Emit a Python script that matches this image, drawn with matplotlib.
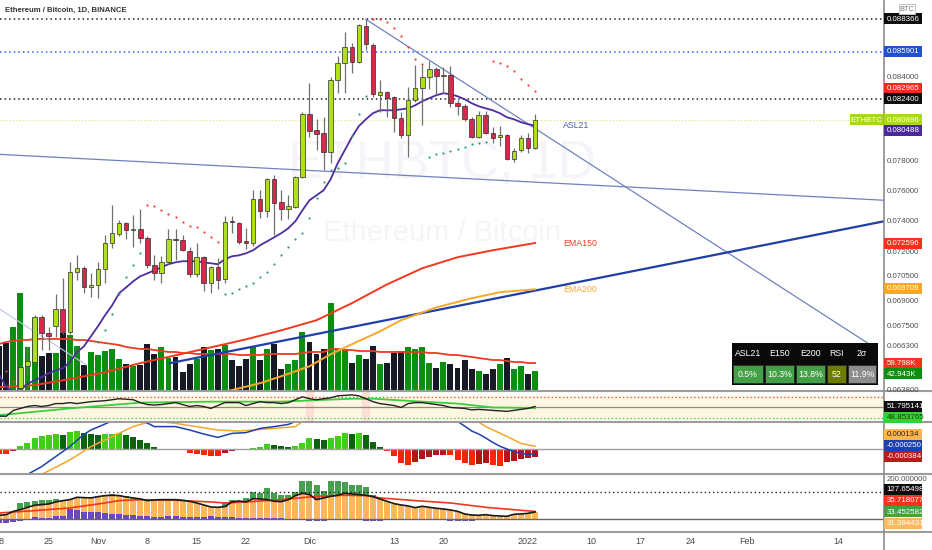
import matplotlib
matplotlib.use('Agg')
import matplotlib.pyplot as plt
from matplotlib.patches import Rectangle
import numpy as np

plt.rcParams['font.family'] = ['Liberation Sans', 'DejaVu Sans']

## ---------------- data (day 0 = 2022-01-01) ----------------
days = list(range(-75, 2))

opens = [.06320, .06260, .06220, .06391, .06515, .06538, .06802, .06706, .06748, .06849,
         .06712, .07076, .07101, .06983, .06996, .07094, .07258, .07316, .07387, .07342,
         .07348, .07290, .07120, .07069, .07138, .07284, .07277, .07208, .07063, .07170,
         .07008, .07107, .07032, .07400, .07387, .07271, .07258, .07545, .07466, .07678,
         .07525, .07479, .07492, .07691, .08130, .08016, .07995, .07862, .08376, .08502,
         .08622, .08509, .08783, .08637, .08267, .08288, .08252, .08101, .07981, .08230,
         .08318, .08398, .08457, .08405, .08413, .08209, .08187, .08094, .07967, .08123,
         .07995, .07967, .07981, .07814, .07876, .07960, .07890]
highs = [.06360, .06330, .06360, .06521, .06630, .06814, .06814, .06742, .06941, .07038,
         .07138, .07182, .07113, .07069, .07138, .07310, .07505, .07406, .07393, .07439,
         .07479, .07303, .07182, .07176, .07348, .07348, .07310, .07233, .07258, .07176,
         .07113, .07164, .07432, .07432, .07393, .07355, .07604, .07604, .07685, .07705,
         .07604, .07571, .07698, .08144, .08354, .08094, .08108, .08398, .08554, .08737,
         .08652, .08798, .08837, .08652, .08376, .08295, .08259, .08144, .08325, .08487,
         .08487, .08516, .08472, .08472, .08479, .08230, .08202, .08108, .08151, .08151,
         .08037, .08045, .07988, .07890, .07981, .07995, .08130]
lows = [.06220, .06200, .06200, .06369, .06464, .06533, .06607, .06607, .06683, .06700,
        .06700, .07026, .06947, .06922, .06916, .07008, .07227, .07303, .07284, .07233,
        .07258, .07101, .07026, .07008, .07126, .07151, .07208, .07045, .07045, .06959,
        .06947, .06971, .07008, .07323, .07252, .07221, .07239, .07419, .07426, .07310,
        .07406, .07413, .07485, .07685, .07967, .07876, .07739, .07787, .08281, .08281,
        .08428, .08502, .08600, .08252, .08144, .08108, .08002, .07960, .07828, .08216,
        .08052, .08310, .08267, .08281, .08180, .08123, .08080, .07960, .07960, .07988,
        .07925, .07904, .07807, .07794, .07862, .07855, .07885]
closes = [.06260, .06220, .06340, .06509, .06544, .06802, .06706, .06689, .06849, .06712,
          .07076, .07101, .06983, .06996, .07094, .07258, .07323, .07387, .07342, .07348,
          .07290, .07120, .07069, .07138, .07284, .07277, .07214, .07063, .07170, .07008,
          .07107, .07026, .07393, .07393, .07264, .07258, .07545, .07466, .07678, .07518,
          .07479, .07498, .07691, .08130, .08009, .07988, .07862, .08376, .08502, .08622,
          .08509, .08791, .08645, .08274, .08288, .08245, .08101, .07981, .08230, .08318,
          .08398, .08457, .08405, .08413, .08209, .08187, .08094, .07967, .08123, .07995,
          .07960, .07981, .07814, .07869, .07960, .07890, .08090]

volume_k = [96, 103, 137, 210, 94, 156, 75, 81, 81, 124,
            120, 96, 56, 83, 77, 86, 90, 68, 58, 54,
            56, 101, 79, 94, 71, 73, 41, 58, 68, 94,
            88, 90, 98, 66, 54, 68, 94, 66, 90, 101,
            47, 58, 66, 126, 105, 79, 90, 188, 90, 90,
            60, 77, 68, 96, 58, 60, 81, 86, 94, 90,
            94, 60, 49, 62, 58, 49, 66, 47, 43, 36,
            47, 58, 71, 47, 54, 36, 42.9]
volume_ma_k = [100.6, 104.9, 107, 109.1, 109.1, 111.3, 111.3, 111.3, 111.3, 111.3,
               111.3, 109.1, 109.1, 107, 104.9, 102.7, 100.6, 98.4, 94.2, 92,
               89.9, 89.9, 87.7, 85.6, 83.5, 83.5, 81.3, 81.3, 79.2, 79.2,
               79.2, 79.2, 79.2, 79.2, 77, 77, 77, 77, 79.2, 79.2,
               79.2, 79.2, 79.2, 81.3, 83.5, 83.5, 83.5, 89.9, 89.9, 87.7,
               87.7, 85.6, 85.6, 85.6, 83.5, 83.5, 83.5, 83.5, 83.5, 83.5,
               83.5, 81.3, 81.3, 79.2, 77, 77, 74.9, 72.8, 70.6, 68.5,
               66.3, 66.3, 64.2, 62, 62, 59.9, 59.8]

asl21 = [.06464, .06397, .06369, .06380, .06414, .06436, .06453, .06475, .06492, .06503,
         .06538, .06596, .06630, .06689, .06748, .06814, .06873, .06947, .06983, .07020,
         .07051, .07069, .07088, .07107, .07126, .07138, .07145, .07145, .07145, .07138,
         .07132, .07126, .07157, .07176, .07182, .07195, .07214, .07246, .07271, .07297,
         .07323, .07355, .07400, .07472, .07538, .07571, .07604, .07678, .07787, .07876,
         .07967, .08045, .08094, .08137, .08158, .08158, .08158, .08165, .08172, .08194,
         .08223, .08245, .08267, .08281, .08274, .08259, .08238, .08209, .08187, .08172,
         .08158, .08137, .08108, .08094, .08073, .08059, .08049]

ema150_days = [-75, -70, -65, -60, -55, -50, -45, -40, -35, -30, -25, -20, -15, -10, -5, 1]
ema150 = [.06397, .06408, .06442, .06481, .06533, .06578, .06624, .06671, .06724, .06784,
          .06886, .07001, .07101, .07170, .07214, .07260]
ema200_days = [-48, -42, -38, -35, -31, -28, -25, -21, -18, -13, -8, -4, 1]
ema200 = [.06341, .06380, .06419, .06458, .06515, .06584, .06642, .06718, .06784, .06861,
          .06916, .06953, .06971]

sar_red_days = [-74, -73, -54, -53, -52, -51, -50, -49, -48, -47, -46, -45, -44,
                -22, -21, -20, -19, -18, -17, -16, -15, -5, -4, -3, -2, -1, 0, 1]
sar_red = [.06486, .06430, .07505, .07498, .07472, .07446, .07426, .07393, .07368, .07361,
           .07329, .07297, .07264, .08840, .08837, .08813, .08767, .08706, .08622, .08531,
           .08494, .08516, .08502, .08479, .08443, .08383, .08340, .08295]
sar_green_days = [-61, -60, -59, -58, -57, -56, -55, -43, -42, -41, -40, -39, -38, -37,
                  -36, -35, -34, -33, -32, -31, -30, -29, -28, -27, -26, -25, -24, -23,
                  -14, -13, -12, -11, -10, -9, -8, -7, -6]
sar_green = [.06653, .06724, .06819, .06941, .07045, .07120, .07195, .06941, .06947, .06971,
             .06989, .07008, .07045, .07076, .07126, .07182, .07233, .07284, .07323, .07419,
             .07551, .07658, .07739, .07753, .07787, .07974, .08130, .08259,
             .07828, .07849, .07855, .07869, .07883, .07897, .07918, .07925, .07932]

# drawn trend lines (day, price)
line_down = ([-23.0, 48.9], [.08837, .06630])
line_flat = ([-74.9, 50.5], [.07848, .07538])
line_up = ([-50.8, 50.5], [.06533, .07400])
line_faint = ([-74.9, -62.6], [.06849, .06521])

rsi = [33.6, 33.6, 44.5, 48.2, 51.8, 53.6, 51.8, 53.6, 57.3, 57.3,
       59.1, 57.3, 59.1, 60.9, 61.8, 62.7, 64.5, 66.4, 65.5, 64.5,
       59.1, 55.5, 54.5, 55.5, 57.3, 59.1, 55.5, 51.8, 53.6, 51.8,
       48.2, 53.6, 59.1, 59.1, 59.1, 53.6, 57.3, 60.9, 59.1, 59.1,
       57.3, 59.1, 64.5, 70.0, 66.4, 64.5, 66.4, 68.2, 71.8, 72.7,
       73.6, 71.8, 66.4, 60.9, 57.3, 55.5, 53.6, 50.0, 57.3, 59.1,
       59.1, 57.3, 55.5, 53.6, 50.0, 49.1, 48.2, 45.5, 46.4, 45.5,
       44.5, 43.6, 42.7, 44.5, 46.4, 48.2, 51.8]
rsi_ma_days = [-75, -65, -55, -45, -35, -25, -22, -15, -10, -5, 1]
rsi_ma = [35.5, 48.2, 59.1, 60.9, 60.9, 66.4, 66.4, 60.9, 57.3, 50.0, 48.85]
rsi_hot_days = [-31, -23]

# MACD, units of 1e-4
macd_hist = [-2.6, -2.6, -1.0, 1.5, 2.9, 5.3, 6.5, 7.0, 7.3, 7.0,
             8.7, 9.2, 7.8, 7.3, 7.2, 7.5, 7.6, 8.0, 7.0, 6.2,
             4.7, 2.9, 0.8, 0.2, -0.3, -0.3, -0.5, -2.0, -2.3, -3.2,
             -3.3, -3.7, -2.2, -1.0, -0.7, -0.5, 0.7, 1.2, 2.3, 2.2,
             1.7, 1.2, 1.5, 2.9, 5.3, 4.9, 4.4, 5.5, 6.5, 8.0,
             7.6, 8.0, 7.0, 3.5, 1.2, -1.2, -3.7, -7.0, -8.0, -6.5,
             -5.0, -4.0, -3.0, -2.8, -3.2, -5.5, -7.0, -8.0, -7.5, -7.0,
             -8.0, -8.7, -6.5, -5.8, -5.0, -4.5, -3.84]
macd_days = [-75, -73, -71, -69, -67, -65, -63, -62, -61, -60, -59, -58, -57, -56, -55, -54,
             -53, -50, -48, -46, -44, -42, -40, -38, -36, -34, -33, -32, -30, -28, -26, -24,
             -22, -20, -18, -16, -14, -12, -11, -10, -9, -8, -7, -6, -5, -4, -3, -2, -1, 0, 1]
macd_line = [-22, -18, -12.7, -8.8, -3.8, 1.2, 7.3, 9.5, 11, 12.5, 14, 15, 15.5, 15, 14, 13,
             11.2, 11.2, 9.5, 7.5, 5.8, 7.8, 8.2, 10.3, 11.2, 12.3, 13.7, 16, 20, 24, 28, 31,
             30, 27, 23, 20, 17.5, 15.5, 15, 13.8, 11.5, 9, 7.5, 5.5, 3.3, 1.4, 0, -1.2, -2.2, -2.7, -2.5]
signal_days = [-75, -72, -69, -65, -62, -59, -56, -54, -52, -50, -47, -44, -41, -39, -36, -33,
               -32, -30, -26, -22, -18, -14, -10, -8, -7, -6, -3, -1, 1]
signal_line = [-20, -17, -12.7, -5.5, 1.2, 6.2, 11.2, 13.3, 13.6, 12.8, 11.2, 9.5, 9, 9.5, 10.3, 11.2,
               13.7, 16, 21, 25, 25, 22, 18, 15, 13.5, 11.2, 6.3, 2.8, 1.34]

# lower oscillator pane
osc_main = [17.5, 20.6, 36.5, 44.4, 55.5, 65.1, 68.2, 71.4, 80.9, 87.3,
            92, 103.2, 101.6, 100, 106.3, 111.1, 112.7, 111.1, 104.7, 100,
            95.2, 87.3, 90.5, 92, 92, 92, 88.9, 84.1, 76.2, 66.7,
            57.1, 55.5, 58.7, 80.9, 85.7, 80.9, 96.8, 95.2, 92, 84.1,
            82.5, 92, 111.1, 122.2, 115.9, 92, 100, 107.9, 112.7, 122.2,
            119, 115.9, 112.7, 106.3, 95.2, 84.1, 73, 66.7, 61.9, 54,
            60.3, 55.5, 50.8, 47.6, 42.8, 36.5, 23.8, 19, 17.5, 20.6,
            15.9, 14.3, 12.7, 22.2, 23.8, 27, 33.3]
osc_green = [0, 0, 33, 76, 81, 87, 90.5, 92, 95, 92,
             97, 106, 105, 106, 111, 116, 119, 116, 108, 0,
             0, 0, 0, 0, 0, 0, 0, 0, 0, 0,
             0, 0, 81, 92, 87, 100, 128.5, 123.8, 147.6, 123.8,
             115.9, 115.9, 128.5, 179.3, 179.3, 163.5, 131.7, 179.3, 179.3, 176.2,
             163.5, 160.3, 150.8, 115.9, 95, 84, 0, 0, 0, 0,
             0, 0, 0, 0, 0, 0, 0, 0, 0, 0,
             0, 0, 0, 0, 0, 0, 33.45]
osc_purple = [-19, -19, -16, -12, -5, 9.5, 5, 5, 12, 12,
              49, 44, 32, 32, 32, 28.6, 25.4, 25.4, 20.6, 17.5,
              15.9, 12.7, 9.5, 9.5, 12.7, 12.7, 9.5, 9.5, 7.9, 7.9,
              12.7, 9.5, 7.9, 7.9, 6, 5, 4.8, 4, 4, 4,
              3, 2, 0, -6, -11, -11, -11, -6, 0, 2,
              2, 0, -11, -11, -11, -6, 2, 2, 2, 2,
              2, 2, 0, 0, -9, -9, -9, -11, 0, 2,
              2, 2, 2, 2, 2, 2, 2]
osc_red_days = [-75, -70, -65, -60, -58, -55, -50, -45, -43, -40, -35, -30, -26, -23, -21, -16, -11, -6, 1]
osc_red = [28.6, 39.7, 52.4, 76.2, 87.3, 92, 88.9, 81, 76.2, 81, 92, 107.9, 112.7, 111.1, 100, 87.3, 76.2, 55.5, 35.7]
osc_level = 127.654982

table_heads = ['ASL21', 'E150', 'E200', 'RSI', '2σ']
table_vals = ['0.5%', '10.3%', '13.8%', '52', '11.9%']
table_colors = ['#43a047', '#43a047', '#43a047', '#6b7c00', '#8d8d8d']

tick_days = [-75, -68, -61, -54, -47, -40, -31, -19, -12, 0, 9, 16, 23, 31, 44]
tick_texts = ['18', '25', 'Nov', '8', '15', '22', 'Dic', '13', '20', '2022', '10', '17', '24', 'Feb', '14']

price_ticks = [0.084, 0.078, 0.076, 0.074, 0.072, 0.0705, 0.069, 0.0675, 0.0663, 0.0638]

## ---------------- layout ----------------
W, H = 932, 550
X0, X1 = -74.9, 50.5
UP, DN = '#b0e01c', '#d8284c'
TAG_FS = 5.7

fig = plt.figure(figsize=(W / 100, H / 100), dpi=100)
fig.patch.set_facecolor('white')


def pane(top, bottom, z=1):
    a = fig.add_axes([0, 1 - bottom / H, 884 / W, (bottom - top) / H], zorder=z)
    a.set_xlim(X0, X1)
    a.set_xticks([])
    a.set_yticks([])
    for s in a.spines.values():
        s.set_visible(False)
    return a


ax_vol = pane(0, 391, 1)
ax = pane(0, 391, 2)
ax.patch.set_alpha(0)
ax_rsi = pane(391, 422)
ax_macd = pane(422, 474)
ax_osc = pane(474, 532)
ov = fig.add_axes([0, 0, 1, 1], zorder=10)
ov.set_xlim(0, W)
ov.set_ylim(H, 0)
ov.axis('off')
ov.patch.set_alpha(0)

d = np.array(days)
o, h, l, c = map(np.array, (opens, highs, lows, closes))
up = c >= o

## volume + watermark
ax_vol.set_ylim(0, 391 * 2.14)
ax_vol.bar(d, volume_k, width=0.84, color=np.where(up, '#0c8f10', '#161a25'))
ax_vol.plot(d, volume_ma_k, color='#ee3a22', lw=1.3)
ax_vol.text(0.5, 0.58, 'ETHBTC, 1D', transform=ax_vol.transAxes, fontsize=38,
            color='#f6f4f9', ha='center', va='center')
ax_vol.text(0.5, 0.405, 'Ethereum / Bitcoin', transform=ax_vol.transAxes, fontsize=21,
            color='#f6f4f9', ha='center', va='center')

## main price pane
ax.set_yscale('log')
ax.set_ylim(0.06375, 0.08988)
ax.set_yticks([], minor=True)
ax.axhline(0.088366, color='#222222', lw=1.1, ls=(0, (1, 2)))
ax.axhline(0.085901, color='#2962ff', lw=1.1, ls=(0, (1, 2)))
ax.axhline(0.0824, color='#222222', lw=1.1, ls=(0, (1, 2)))
ax.axhline(0.080896, color='#dfe88e', lw=0.9, ls=(0, (1, 1.5)))

ax.plot(*line_down, color='#6f82c0', lw=0.9)
ax.plot(*line_flat, color='#6f82c0', lw=0.9)
ax.plot(*line_faint, color='#b8c6ea', lw=0.8)
ax.plot(*line_up, color='#1f3fa6', lw=1.6)
ax.plot(ema150_days, ema150, color='#ef3a1e', lw=1.4)
ax.plot(ema200_days, ema200, color='#f7a82a', lw=1.4)
ax.plot(d, asl21, color='#4d2d9f', lw=1.3, zorder=3)

lo_b = np.minimum(o, c)
hi_b = np.maximum(o, c)
ax.vlines(d, l, h, color='#707070', lw=0.9, zorder=4)
ax.bar(d, np.maximum(hi_b - lo_b, 0.00003), bottom=lo_b, width=0.64,
       color=np.where(up, UP, DN), edgecolor='#2e2e2e', linewidth=0.5, zorder=5)
ax.scatter(sar_red_days, sar_red, s=2.5, color='#f0412f', zorder=6, linewidths=0)
ax.scatter(sar_green_days, sar_green, s=2.5, color='#2b9c78', zorder=6, linewidths=0)

ax.text(5, asl21[-1], 'ASL21', color='#4a5fae', fontsize=6.3, va='center', ha='left')
ax.text(5, ema150[-1], 'EMA150', color='#ef3a1e', fontsize=6.3, va='center', ha='left')
ax.text(5, ema200[-1], 'EMA200', color='#f7a82a', fontsize=6.3, va='center', ha='left')

## RSI pane
ax_rsi.set_ylim(22.7, 80.9)
ax_rsi.axhspan(29, 72, color='#fdf7e2', zorder=0)
for hd in rsi_hot_days:
    ax_rsi.axvspan(hd - 0.5, hd + 0.5, color='#fde0d4', zorder=0.5)
ax_rsi.axhline(70, color='#f04040', lw=0.9, ls=(0, (1, 2)))
ax_rsi.axhline(30, color='#34c834', lw=0.9, ls=(0, (1, 2)))
ax_rsi.axhline(50, color='#8a8a8a', lw=0.9)
ax_rsi.plot(rsi_ma_days, rsi_ma, color='#3ccf3c', lw=1.3)
ax_rsi.plot(d, rsi, color='#222222', lw=1.0)

## MACD pane
ax_macd.set_ylim(-12.5, 13.5)
ax_macd.axhline(0, color='#a0a0a0', lw=1)
hist = np.array(macd_hist)
prev = np.concatenate([[hist[0]], hist[:-1]])
hcol = np.where(hist >= 0, np.where(hist >= prev, '#3fcf16', '#0b640b'),
                np.where(hist <= prev, '#ff2400', '#b3141c'))
ax_macd.bar(d, hist, width=0.85, color=hcol)
ax_macd.plot(signal_days, signal_line, color='#f6a630', lw=1.1)
ax_macd.plot(macd_days, macd_line, color='#1e40b0', lw=1.1)

## oscillator pane
ax_osc.set_ylim(-62, 214)
ax_osc.bar(d, osc_green, width=0.85, color='#45a04f')
ax_osc.bar(d, osc_main, width=0.85, color='#ffb75e')
ax_osc.bar(d, osc_purple, width=0.85, color='#6a48c0')
ax_osc.axhline(0, color='#666666', lw=1)
ax_osc.axhline(osc_level, color='#222222', lw=1.0, ls=(0, (1, 2)))
ax_osc.plot(osc_red_days, osc_red, color='#f2381c', lw=1.2)
ax_osc.plot(d, osc_main, color='#1a1a1a', lw=1.2)

## ---------------- overlay: scale, tags, table ----------------
ov.hlines([391, 422, 474, 532], 0, W, color='#9c9c9c', lw=1.5, zorder=2)
ov.vlines(884, 0, H, color='#8c8c8c', lw=1.2, zorder=2)


def ypix(axis, val):
    return H - axis.transData.transform((0, val))[1]


def tag(axis, val, text, bg=None, fg='#505050', shift=0.0):
    y = ypix(axis, val) + shift
    z = 6 if bg else 3
    if bg:
        ov.add_patch(Rectangle((884, y - 5.5), 38, 11, facecolor=bg, edgecolor='none', zorder=z))
    ov.text(886.5, y + 0.3, text, color=fg, fontsize=TAG_FS, va='center', ha='left', zorder=z + 1)


for v in price_ticks:
    tag(ax, v, f'{v:.6f}')
tag(ax, 0.088366, '0.088366', '#0d0d0d', 'white', -0.5)
tag(ax, 0.085901, '0.085901', '#2152c9', 'white')
tag(ax, 0.082965, '0.082965', '#f52a1a', 'white', -3)
tag(ax, 0.0824, '0.082400', '#0d0d0d', 'white')
tag(ax, 0.080896, '0.080896', '#a9d81a', 'white')
tag(ax, asl21[-1], '0.080488', '#4a2a9a', 'white', 5)
tag(ax, ema150[-1], '0.072596', '#f5321c', 'white')
tag(ax, ema200[-1], '0.069709', '#f9a825', 'white', -1)
tag(ax_vol, volume_ma_k[-1], '59.798K', '#f5321c', 'white')
tag(ax_vol, volume_k[-1], '42.943K', '#0c8f10', 'white', 3)
tag(ax_rsi, rsi[-1], '51.795141', '#0d0d0d', 'white')
tag(ax_rsi, rsi_ma[-1], '48.853765', '#33d233', '#1c3a12', 9.5)
tag(ax_macd, signal_line[-1], '0.000134', '#ffb54a', '#2a2a2a', -12)
tag(ax_macd, macd_line[-1], '-0.000250', '#1e3fae', 'white', -9)
tag(ax_macd, macd_hist[-1], '-0.000384', '#b71c1c', 'white')
tag(ax_osc, 200, '200.000000', None, '#505050', 2.5)
tag(ax_osc, osc_level, '127.654982', '#0d0d0d', 'white', -3)
tag(ax_osc, osc_red[-1], '35.718077', '#f5321c', 'white', -11)
tag(ax_osc, osc_green[-1], '33.452582', '#43a047', 'white')
tag(ax_osc, 31.384431, '31.384431', '#ffb75e', 'white', 11)

# ETHBTC symbol tag
ye = ypix(ax, 0.080896)
ov.add_patch(Rectangle((850, ye - 5.5), 33, 11, facecolor='#a9d81a', edgecolor='none', zorder=6))
ov.text(866.5, ye + 0.3, 'ETHBTC', color='white', fontsize=5.8, ha='center', va='center', zorder=7)

# title and currency
ov.text(5, 10, 'Ethereum / Bitcoin, 1D, BINANCE', color='#333333', fontsize=5.6,
        fontweight='bold', va='center', ha='left')
ov.add_patch(Rectangle((899, 4), 16, 10, facecolor='white', edgecolor='#c4c4c4', lw=0.7, zorder=6))
ov.text(907, 9.3, 'BTC', color='#777777', fontsize=5.3, ha='center', va='center', zorder=7)

# summary table
ov.add_patch(Rectangle((732, 343), 146, 42, facecolor='#0a0a0a', edgecolor='none', zorder=6))
cell_x = [733, 765, 796, 827, 848]
cell_w = [30, 29, 29, 19, 28]
for cx, cw, head, val, col in zip(cell_x, cell_w, table_heads, table_vals, table_colors):
    ov.text(cx + cw / 2, 354, head, color='white', fontsize=6.3, ha='center', va='center', zorder=7)
    ov.add_patch(Rectangle((cx, 365), cw, 18, facecolor=col, edgecolor='#2a2a2a', lw=0.6, zorder=7))
    ov.text(cx + cw / 2, 374.5, val, color='white', fontsize=6.3, ha='center', va='center', zorder=8)

# time axis
for td, tt in zip(tick_days, tick_texts):
    xp = ax.transData.transform((td, 0.07))[0]
    ov.text(xp, 541, tt, color='#4a4a4a', fontsize=6.5, ha='center', va='center')

plt.savefig('out.png', dpi=100, facecolor='white')
